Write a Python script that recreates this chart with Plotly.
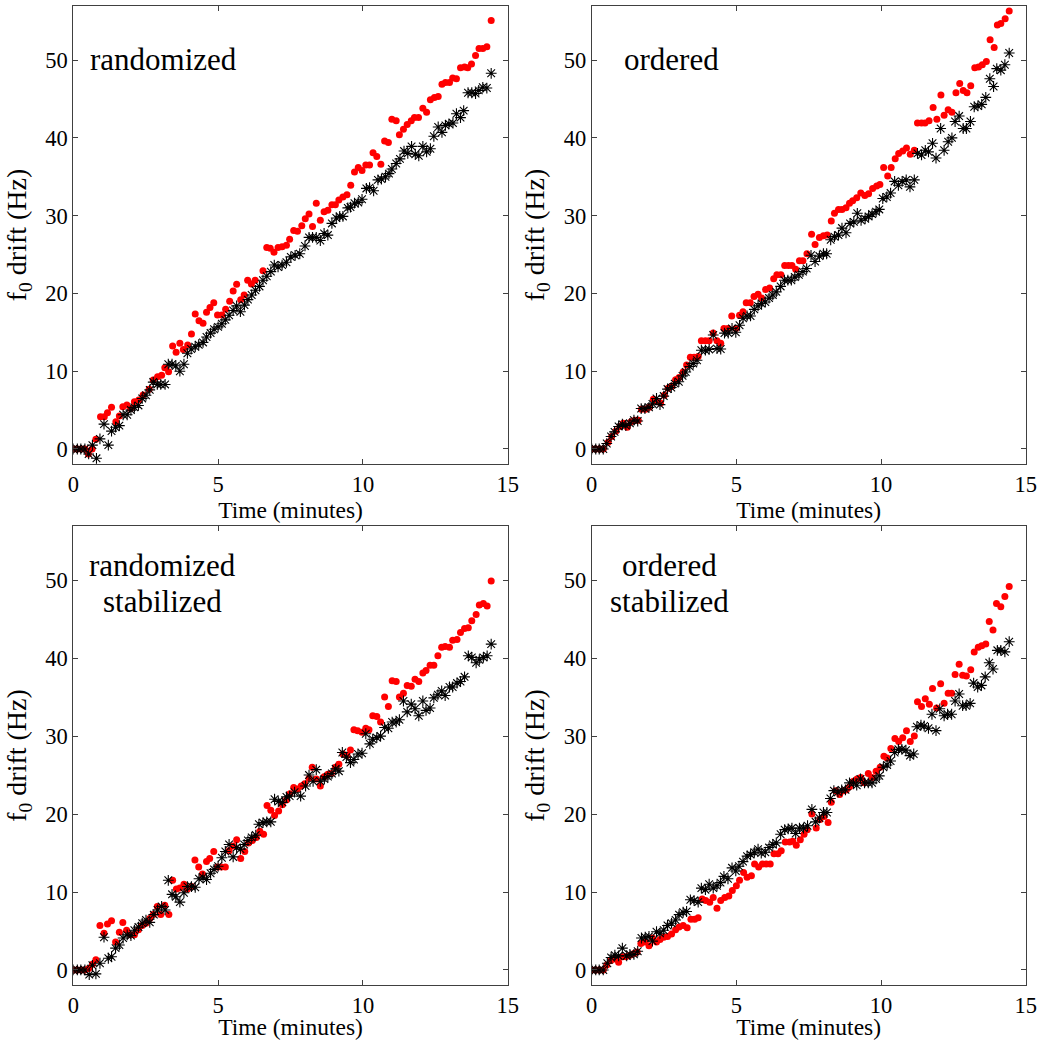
import plotly.graph_objects as go

# ---------------- data: f0 drift (Hz) versus time (minutes) ----------------
# Panel "randomized"
t_rand_red = [0, 0.13, 0.27, 0.4, 0.52, 0.65, 0.78, 0.94, 1.07, 1.18, 1.32, 1.47, 1.59, 1.71, 1.85, 1.98,
              2.11, 2.26, 2.41, 2.62, 2.76, 2.91, 3.05, 3.16, 3.29, 3.43, 3.55, 3.68, 3.8, 3.95, 4.08, 4.21,
              4.34, 4.48, 4.6, 4.72, 4.85, 4.98, 5.13, 5.26, 5.4, 5.52, 5.64, 5.78, 5.9, 6.02, 6.15, 6.28,
              6.55, 6.68, 6.8, 6.93, 7.07, 7.21, 7.36, 7.47, 7.61, 7.74, 7.89, 8.01, 8.14, 8.26, 8.39, 8.53,
              8.66, 8.79, 8.93, 9.05, 9.17, 9.31, 9.45, 9.58, 9.71, 9.84, 9.97, 10.1, 10.23, 10.35, 10.48,
              10.62, 10.75, 10.88, 11.0, 11.15, 11.26, 11.4, 11.53, 11.67, 11.78, 11.92, 12.07, 12.2, 12.33,
              12.47, 12.6, 12.73, 12.85, 12.99, 13.1, 13.23, 13.37, 13.51, 13.62, 13.75, 13.89, 14.01, 14.14,
              14.28, 14.43]
f_rand_red = [0, 0, 0, 0, -0.64, 0, 1.25, 4.15, 4.15, 4.67, 5.35, 3.5, 4.24, 5.44, 5.65, 5.2,
              6.08, 6.3, 6.94, 7.67, 8.87, 9.3, 9.47, 10.45, 9.94, 13.24, 12.43, 13.58, 12.8, 13.37, 14.78, 17.35,
              16.5, 16.15, 17.57, 18.2, 18.8, 17.22, 17.22, 17.95, 19.0, 20.3, 21.17, 19.2, 19.8, 21.7, 21.2, 21.7,
              22.9, 25.9, 25.8, 25.3, 25.9, 26.0, 26.2, 26.95, 28.1, 28.0, 28.7, 29.6, 30.2, 28.6, 31.6, 29.4,
              30.5, 30.7, 31.4, 31.4, 32.0, 32.4, 32.7, 33.9, 35.6, 36.2, 35.8, 36.5, 36.5, 38.1, 37.6,
              36.6, 39.6, 39.4, 42.4, 42.2, 40.4, 41.1, 41.7, 42.2, 42.6, 42.6, 43.8, 43.3, 44.9,
              45.2, 45.3, 46.9, 47.1, 47.1, 47.7, 47.6, 49.0, 49.1, 49.0, 49.5, 50.6, 51.5, 51.5,
              51.7, 55.1]
t_rand_blk = [0, 0.14, 0.26, 0.4, 0.53, 0.66, 0.8, 0.92, 1.06, 1.21, 1.32, 1.46, 1.59, 1.72, 1.86, 1.99,
              2.11, 2.25, 2.38, 2.51, 2.64, 2.76, 2.9, 3.02, 3.17, 3.28, 3.41, 3.54, 3.68, 3.82, 3.94, 4.07,
              4.21, 4.33, 4.48, 4.6, 4.74, 4.86, 5.0, 5.13, 5.25, 5.38, 5.52, 5.64, 5.77, 5.91, 6.03, 6.16,
              6.29, 6.43, 6.55, 6.68, 6.82, 6.94, 7.07, 7.21, 7.36, 7.51, 7.66, 7.82, 8.0, 8.14, 8.26, 8.39,
              8.53, 8.66, 8.79, 8.93, 9.08, 9.2, 9.31, 9.48, 9.57, 9.71, 9.84, 9.97, 10.12, 10.23, 10.37,
              10.52, 10.64, 10.78, 10.9, 11.0, 11.15, 11.28, 11.42, 11.55, 11.68, 11.81, 11.93, 12.07, 12.2,
              12.33, 12.45, 12.6, 12.73, 12.85, 12.97, 13.11, 13.23, 13.37, 13.48, 13.63, 13.76, 13.89, 14.0,
              14.14, 14.28, 14.43]
f_rand_blk = [0, 0, 0, 0, -0.64, 0.5, -1.2, 1.3, 3.2, 0.5, 2.3, 2.8, 3.0, 4.4, 4.4, 5.0,
              5.35, 5.6, 6.5, 6.9, 7.6, 8.6, 8.3, 8.3, 8.3, 10.9, 10.9, 10.7, 10.0, 10.9, 12.3, 12.85,
              13.15, 13.4, 13.7, 14.4, 14.9, 15.4, 15.7, 16.1, 16.6, 17.2, 17.8, 18.4, 17.65, 18.5, 19.2, 19.8,
              20.4, 20.9, 21.7, 22.2, 22.8, 23.65, 23.4, 23.65, 24.0, 24.7, 24.9, 25.1, 26.1, 27.2, 27.2, 27.2,
              26.8, 27.7, 27.5, 29.0, 29.7, 29.9, 29.9, 31.0, 31.1, 31.6, 31.7, 32.1, 33.5, 33.6, 33.2,
              34.6, 34.7, 35.0, 35.4, 36.0, 36.7, 37.3, 38.3, 38.0, 38.9, 37.9, 37.7, 38.9, 38.2,
              38.6, 40.2, 41.4, 40.7, 41.6, 41.8, 41.9, 43.1, 42.6, 43.5, 45.8, 45.8, 45.7, 46.1,
              46.5, 46.4, 48.3]

# Panel "ordered"
t_ord_red = [0, 0.14, 0.27, 0.4, 0.57, 0.69, 0.84, 0.98, 1.09, 1.23, 1.36, 1.49, 1.61, 1.72, 1.86, 1.99,
             2.13, 2.24, 2.38, 2.51, 2.64, 2.77, 2.9, 3.02, 3.16, 3.28, 3.41, 3.54, 3.68, 3.79, 3.93, 4.06,
             4.2, 4.33, 4.46, 4.57, 4.71, 4.84, 4.98, 5.11, 5.23, 5.34, 5.48, 5.61, 5.75, 5.87, 6.01, 6.15,
             6.29, 6.4, 6.54, 6.67, 6.8, 6.92, 7.05, 7.18, 7.3, 7.44, 7.6, 7.72, 7.87, 8.01, 8.14, 8.28,
             8.39, 8.53, 8.65, 8.79, 8.91, 9.02, 9.16, 9.3, 9.44, 9.57, 9.71, 9.85, 9.96, 10.09, 10.23,
             10.35, 10.49, 10.61, 10.75, 10.88, 11.01, 11.15, 11.26, 11.4, 11.52, 11.66, 11.8, 11.93, 12.07,
             12.18, 12.32, 12.45, 12.59, 12.72, 12.84, 12.97, 13.1, 13.24, 13.37, 13.5, 13.64, 13.77, 13.91,
             14.02, 14.14, 14.29, 14.43]
f_ord_red = [0, 0, 0, 0, 0.86, 1.6, 2.3, 2.9, 3.3, 2.8, 3.5, 3.7, 3.7, 5.1, 5.1, 5.35,
             6.4, 6.1, 5.9, 6.9, 7.8, 8.1, 8.9, 9.2, 9.9, 10.8, 11.8, 11.8, 11.9, 13.9, 13.9, 13.9,
             14.9, 13.9, 13.6, 15.5, 15.5, 17.1, 15.5, 17.2, 17.65, 18.8, 18.8, 19.6, 19.9, 19.4, 20.5, 20.7,
             21.9, 22.4, 22.4, 23.6, 23.6, 23.6, 23.1, 24.2, 24.2, 25.1, 27.6, 26.3, 27.2, 27.4, 27.5, 29.3,
             30.3, 30.8, 30.8, 31.0, 31.6, 31.9, 32.3, 32.9, 32.6, 32.8, 33.5, 33.8, 34.0, 36.2, 35.1,
             36.2, 37.3, 38.0, 38.3, 38.7, 37.9, 38.4, 41.9, 41.9, 41.9, 42.2, 43.9, 42.4, 45.5,
             42.9, 43.6, 43.3, 45.8, 47.0, 46.1, 45.8, 46.7, 49.0, 49.1, 49.4, 49.8, 52.6, 51.6,
             54.5, 54.7, 55.3, 56.3]
t_ord_blk = [0, 0.14, 0.26, 0.4, 0.52, 0.67, 0.79, 0.93, 1.06, 1.18, 1.32, 1.46, 1.59, 1.71, 1.84, 1.98,
             2.1, 2.24, 2.36, 2.49, 2.62, 2.75, 2.87, 3.01, 3.14, 3.25, 3.39, 3.51, 3.64, 3.79, 3.93, 4.06,
             4.2, 4.33, 4.46, 4.59, 4.72, 4.85, 4.98, 5.11, 5.23, 5.37, 5.49, 5.62, 5.75, 5.87, 6.0, 6.13,
             6.26, 6.38, 6.53, 6.66, 6.78, 6.9, 7.02, 7.16, 7.3, 7.43, 7.58, 7.72, 7.87, 8.01, 8.12, 8.26,
             8.39, 8.53, 8.65, 8.79, 8.93, 9.06, 9.18, 9.31, 9.45, 9.57, 9.69, 9.83, 9.94, 10.06, 10.2,
             10.33, 10.47, 10.6, 10.73, 10.87, 11.0, 11.15, 11.26, 11.4, 11.53, 11.64, 11.78, 11.9, 12.06,
             12.18, 12.32, 12.45, 12.56, 12.7, 12.84, 12.95, 13.09, 13.22, 13.35, 13.48, 13.62, 13.76, 13.89,
             14.0, 14.14, 14.28, 14.43]
f_ord_blk = [0, 0, 0, 0, 0.7, 1.6, 2.2, 2.9, 3.2, 3.0, 3.3, 3.7, 3.6, 5.2, 5.2, 5.35,
             5.8, 6.5, 5.7, 6.8, 7.7, 7.9, 8.4, 8.65, 9.4, 9.9, 10.6, 11.0, 11.4, 12.7, 12.7, 12.8,
             14.65, 12.9, 12.85, 14.9, 14.9, 15.5, 15.0, 15.9, 16.8, 17.1, 17.1, 17.95, 18.4, 18.7, 18.9, 19.4,
             19.8, 20.2, 20.9, 21.7, 21.7, 21.7, 22.1, 22.4, 22.8, 23.2, 24.9, 24.1, 24.8, 25.1, 25.1, 26.9,
             27.3, 27.5, 28.4, 27.8, 29.0, 29.2, 30.3, 29.4, 29.6, 29.9, 30.2, 30.5, 30.8, 32.2, 32.4,
             32.9, 34.4, 33.9, 34.4, 34.6, 33.7, 34.6, 38.0, 37.8, 38.4, 38.2, 39.3, 37.4, 41.2,
             38.4, 39.5, 40.0, 42.1, 42.8, 41.2, 41.2, 42.1, 44.0, 44.1, 44.3, 45.2, 47.6, 46.6,
             48.9, 48.7, 49.4, 50.9]

# Panel "randomized stabilized"
t_rs_red = [0, 0.13, 0.27, 0.4, 0.53, 0.66, 0.78, 0.92, 1.06, 1.18, 1.32, 1.46, 1.59, 1.71, 1.84, 1.98,
            2.11, 2.25, 2.38, 2.51, 2.64, 2.76, 2.9, 3.02, 3.16, 3.3, 3.43, 3.56, 3.68, 3.82, 3.94, 4.08,
            4.2, 4.33, 4.46, 4.6, 4.71, 4.85, 4.98, 5.11, 5.25, 5.38, 5.52, 5.64, 5.78, 5.92, 6.05, 6.18,
            6.32, 6.44, 6.57, 6.69, 6.82, 6.95, 7.09, 7.22, 7.36, 7.48, 7.61, 7.74, 7.87, 7.99, 8.14, 8.25,
            8.39, 8.53, 8.66, 8.79, 8.91, 9.05, 9.17, 9.31, 9.45, 9.57, 9.69, 9.82, 9.97, 10.1, 10.21,
            10.34, 10.48, 10.61, 10.75, 10.88, 11.01, 11.15, 11.26, 11.4, 11.53, 11.67, 11.8, 11.93, 12.07,
            12.18, 12.32, 12.45, 12.59, 12.72, 12.84, 12.99, 13.1, 13.25, 13.37, 13.51, 13.64, 13.76, 13.91,
            14.02, 14.16, 14.29, 14.43]
f_rs_red = [0, 0, 0, 0, 0.2, 0.73, 1.3, 5.7, 4.7, 5.9, 6.3, 3.6, 4.85, 6.1, 5.1, 4.5,
            4.5, 5.15, 5.7, 6.0, 6.6, 7.1, 8.15, 7.1, 8.3, 7.1, 11.5, 10.4, 10.5, 11.0, 10.4, 10.7,
            14.1, 13.2, 12.3, 13.9, 14.3, 15.2, 13.2, 13.2, 13.2, 15.3, 15.9, 16.7, 14.3, 15.2, 16.3, 16.6,
            17.0, 17.8, 17.4, 21.1, 20.5, 19.8, 20.4, 21.2, 21.8, 22.6, 23.4, 23.2, 23.6, 23.9, 24.6, 26.0,
            24.5, 23.6, 24.8, 25.1, 25.2, 26.0, 26.4, 27.7, 27.5, 28.2, 30.8, 30.7, 30.5, 31.0, 30.8,
            32.6, 32.5, 31.8, 35.0, 33.8, 37.1, 37.0, 35.0, 35.5, 36.5, 36.4, 37.3, 37.0, 38.1,
            38.4, 39.1, 39.1, 40.3, 41.4, 41.5, 41.4, 42.3, 42.4, 43.3, 43.8, 43.9, 44.8, 45.6,
            46.8, 47.0, 46.7, 49.9]
t_rs_blk = [0, 0.14, 0.26, 0.4, 0.55, 0.66, 0.78, 0.92, 1.06, 1.21, 1.32, 1.46, 1.59, 1.72, 1.86, 1.99,
            2.11, 2.25, 2.38, 2.51, 2.64, 2.78, 2.91, 3.05, 3.17, 3.28, 3.41, 3.54, 3.68, 3.82, 3.94, 4.08,
            4.21, 4.34, 4.48, 4.6, 4.74, 4.86, 5.0, 5.13, 5.25, 5.38, 5.52, 5.64, 5.77, 5.9, 6.03, 6.16,
            6.3, 6.41, 6.55, 6.68, 6.82, 6.95, 7.08, 7.22, 7.36, 7.47, 7.64, 7.85, 8.02, 8.14, 8.28, 8.39,
            8.53, 8.67, 8.79, 8.93, 9.06, 9.17, 9.29, 9.43, 9.57, 9.69, 9.83, 9.97, 10.1, 10.24, 10.34,
            10.48, 10.61, 10.75, 10.88, 11.01, 11.15, 11.26, 11.4, 11.53, 11.67, 11.8, 11.93, 12.07, 12.18,
            12.32, 12.45, 12.59, 12.72, 12.84, 12.99, 13.1, 13.25, 13.37, 13.51, 13.64, 13.76, 13.91, 14.02,
            14.16, 14.29, 14.43]
f_rs_blk = [0, 0, 0, 0, -0.6, 0.6, -0.5, 0.86, 4.2, 1.5, 1.7, 2.8, 3.2, 4.1, 4.5, 4.4,
            5.1, 5.5, 6.0, 6.4, 6.1, 7.1, 7.7, 8.15, 7.7, 11.5, 9.7, 9.4, 8.7, 9.9, 10.7, 10.7,
            10.6, 11.7, 11.9, 11.6, 12.4, 12.9, 13.3, 14.4, 15.2, 16.1, 14.5, 15.7, 15.5, 16.1, 16.6, 17.0,
            17.3, 18.7, 18.9, 19.0, 19.0, 21.9, 21.6, 21.5, 22.2, 22.3, 22.8, 22.3, 23.6, 25.0, 24.2, 25.7,
            24.2, 24.5, 24.8, 25.2, 25.8, 25.5, 27.9, 27.3, 26.6, 27.0, 27.7, 27.8, 30.3, 29.0, 29.6,
            29.8, 30.0, 31.1, 31.0, 31.8, 31.8, 32.1, 34.5, 33.1, 34.1, 33.5, 32.6, 34.5, 33.3,
            33.6, 34.9, 35.3, 35.8, 35.2, 36.3, 36.3, 36.8, 37.0, 37.6, 40.3, 40.1, 39.4, 39.8,
            40.1, 40.3, 41.8]

# Panel "ordered stabilized"
t_os_red = [0, 0.14, 0.26, 0.4, 0.52, 0.66, 0.79, 0.93, 1.06, 1.18, 1.32, 1.46, 1.57, 1.7, 1.84, 1.98,
            2.1, 2.24, 2.36, 2.49, 2.62, 2.76, 2.9, 3.02, 3.16, 3.3, 3.43, 3.56, 3.68, 3.82, 3.94, 4.08,
            4.2, 4.33, 4.46, 4.6, 4.74, 4.86, 5.0, 5.11, 5.25, 5.37, 5.52, 5.63, 5.77, 5.9, 6.03, 6.17,
            6.3, 6.44, 6.55, 6.69, 6.84, 6.95, 7.07, 7.21, 7.34, 7.45, 7.61, 7.76, 7.89, 8.03, 8.17, 8.28,
            8.43, 8.57, 8.69, 8.8, 8.91, 9.05, 9.17, 9.3, 9.42, 9.56, 9.69, 9.83, 9.97, 10.1, 10.21,
            10.34, 10.48, 10.61, 10.75, 10.88, 11.01, 11.15, 11.26, 11.4, 11.53, 11.67, 11.78, 11.92, 12.06,
            12.18, 12.32, 12.44, 12.56, 12.7, 12.82, 12.95, 13.1, 13.22, 13.36, 13.48, 13.62, 13.74, 13.87,
            13.99, 14.14, 14.28, 14.43]
f_os_red = [0, 0, 0, 0, 0.64, 1.2, 1.4, 1.0, 1.7, 1.7, 1.9, 2.1, 2.3, 3.4, 3.6, 3.1,
            4.1, 3.6, 3.9, 4.2, 4.3, 4.6, 5.15, 5.5, 5.7, 5.4, 6.5, 6.5, 6.7, 9.1, 8.9, 8.7,
            9.3, 7.9, 8.9, 9.3, 9.5, 10.2, 10.8, 11.5, 12.5, 11.9, 12.1, 13.6, 13.2, 13.6, 13.6, 13.6,
            14.9, 14.9, 15.3, 16.4, 16.4, 16.5, 16.0, 16.7, 17.4, 18.0, 20.0, 18.2, 19.3, 19.7, 18.9, 21.5,
            23.0, 22.5, 23.0, 23.1, 23.5, 24.2, 24.5, 24.7, 24.0, 25.2, 24.7, 25.5, 26.0, 27.4, 27.2,
            28.4, 29.7, 29.3, 29.8, 30.7, 29.3, 30.0, 34.4, 33.8, 34.8, 34.1, 36.1, 33.6, 36.7,
            34.2, 35.5, 35.5, 37.9, 39.2, 37.8, 37.7, 38.5, 40.8, 41.4, 41.6, 41.8, 44.7, 43.6,
            47.0, 46.6, 47.9, 49.2]
t_os_blk = [0, 0.14, 0.26, 0.4, 0.54, 0.67, 0.8, 0.93, 1.06, 1.21, 1.32, 1.46, 1.59, 1.72, 1.85, 1.98,
            2.1, 2.24, 2.36, 2.49, 2.62, 2.76, 2.9, 3.02, 3.16, 3.28, 3.41, 3.54, 3.68, 3.79, 3.93, 4.06,
            4.2, 4.33, 4.45, 4.57, 4.71, 4.85, 4.98, 5.09, 5.23, 5.37, 5.49, 5.62, 5.75, 5.86, 6.0, 6.13,
            6.26, 6.38, 6.53, 6.67, 6.79, 6.92, 7.05, 7.18, 7.32, 7.46, 7.61, 7.74, 7.87, 8.01, 8.13, 8.25,
            8.37, 8.51, 8.64, 8.77, 8.91, 9.05, 9.16, 9.29, 9.43, 9.56, 9.69, 9.83, 9.94, 10.08, 10.21,
            10.33, 10.47, 10.6, 10.72, 10.86, 11.0, 11.13, 11.24, 11.38, 11.49, 11.64, 11.76, 11.9, 12.03,
            12.18, 12.3, 12.44, 12.56, 12.7, 12.82, 12.94, 13.08, 13.2, 13.34, 13.47, 13.6, 13.74, 13.87,
            14.02, 14.14, 14.28, 14.43]
f_os_blk = [0, 0, 0, 0, 0.86, 1.6, 1.9, 1.8, 2.8, 1.8, 2.0, 2.0, 2.4, 4.1, 4.2, 4.3,
            3.7, 4.9, 4.7, 5.1, 5.7, 6.0, 6.4, 7.1, 7.4, 7.5, 9.0, 8.9, 8.7, 10.5, 10.3, 11.0,
            10.5, 10.8, 11.2, 12.0, 11.7, 13.1, 12.7, 13.3, 13.9, 14.6, 14.8, 15.1, 15.5, 15.0, 15.1, 15.7,
            16.1, 16.3, 17.4, 18.0, 18.1, 18.2, 17.5, 18.2, 18.2, 18.5, 20.6, 19.0, 19.5, 20.2, 20.2, 22.0,
            23.0, 22.8, 23.1, 23.1, 24.0, 24.0, 23.7, 24.5, 24.0, 24.0, 24.0, 24.5, 24.9, 26.0, 26.3,
            26.8, 27.9, 28.3, 28.3, 28.2, 27.5, 27.7, 31.2, 31.4, 31.3, 31.0, 32.8, 30.7, 33.5,
            32.6, 32.8, 32.8, 34.5, 35.4, 33.9, 33.9, 34.2, 36.8, 36.3, 36.5, 37.6, 39.4, 38.6,
            41.0, 41.0, 40.8, 42.1]

panel_labels = [["randomized"], ["ordered"], ["randomized", "stabilized"], ["ordered", "stabilized"]]
x_ticks = [0, 5, 10, 15]
y_ticks = [0, 10, 20, 30, 40, 50]
x_title = "Time (minutes)"
y_title = "f<sub>0</sub> drift (Hz)"

panels = [
    (t_rand_red, f_rand_red, t_rand_blk, f_rand_blk),
    (t_ord_red, f_ord_red, t_ord_blk, f_ord_blk),
    (t_rs_red, f_rs_red, t_rs_blk, f_rs_blk),
    (t_os_red, f_os_red, t_os_blk, f_os_blk),
]

# ---------------- layout geometry (pixels) ----------------
W, H = 1039, 1040
col_x = [(73.3, 507.7), (591.7, 1025.7)]     # left/right edges of each column
row_y = [(6.0, 464.0), (526.0, 985.0)]       # top/bottom edges of each row
label_left = [88, 622]                        # left edge of single-line panel labels
label_center = [162, 669]                     # centre of two-line panel labels
SERIF = "Liberation Serif, Times New Roman, serif"
AXIS_COLOR = "#404040"


def px_x(p):
    return p / W


def px_y(p):
    return 1 - p / H


fig = go.Figure()
layout = dict(
    width=W, height=H,
    margin=dict(l=0, r=0, t=0, b=0),
    paper_bgcolor="white", plot_bgcolor="white",
    showlegend=False,
    font=dict(family=SERIF, color="black", size=22),
)
annotations = []

for i, (tr, fr, tb, fb) in enumerate(panels):
    row, col = divmod(i, 2)
    suffix = "" if i == 0 else str(i + 1)
    xa, ya = "x" + suffix, "y" + suffix
    x0, x1 = col_x[col]
    y0, y1 = row_y[row]

    fig.add_trace(go.Scatter(
        x=tr, y=fr, mode="markers", xaxis=xa, yaxis=ya,
        marker=dict(symbol="circle", size=7, color="#ff0000", line=dict(width=0)),
    ))
    fig.add_trace(go.Scatter(
        x=tb, y=fb, mode="markers", xaxis=xa, yaxis=ya,
        marker=dict(symbol="asterisk-open", size=9, color="black",
                    line=dict(color="black", width=1.1)),
    ))

    common = dict(showgrid=False, zeroline=False, showline=True, linecolor=AXIS_COLOR,
                  linewidth=1, mirror="ticks", ticks="inside", ticklen=5, tickcolor=AXIS_COLOR,
                  tickwidth=1, tickfont=dict(family=SERIF, size=22.5, color="black"),
                  automargin=False, fixedrange=True)
    layout["xaxis" + suffix] = dict(
        common, domain=[px_x(x0), px_x(x1)], range=[0, 15], tickvals=x_ticks,
        anchor=ya,
        title=dict(text=x_title, standoff=4, font=dict(family=SERIF, size=23.5, color="black")),
    )
    # trailing no-break spaces lengthen the rotated title so its words sit a little lower
    layout["yaxis" + suffix] = dict(
        common, domain=[px_y(y1), px_y(y0)], range=[-1.93, 56.95], tickvals=y_ticks,
        anchor=xa,
        title=dict(text=y_title + "\u00a0" * 5, standoff=10,
                   font=dict(family=SERIF, size=28, color="black")),
    )

    # panel label lines
    lines = panel_labels[i]
    if len(lines) == 1:
        annotations.append(dict(
            text=lines[0], xref="paper", yref="paper", x=px_x(label_left[col]), y=px_y(y0 + 53),
            xanchor="left", yanchor="middle", showarrow=False,
            font=dict(family=SERIF, size=31, color="black"),
        ))
    else:
        for k, line in enumerate(lines):
            annotations.append(dict(
                text=line, xref="paper", yref="paper", x=px_x(label_center[col]),
                y=px_y(y0 + 39 + 36 * k),
                xanchor="center", yanchor="middle", showarrow=False,
                font=dict(family=SERIF, size=31, color="black"),
            ))

layout["annotations"] = annotations
fig.update_layout(**layout)
fig.write_html("out.html", include_plotlyjs=True)
